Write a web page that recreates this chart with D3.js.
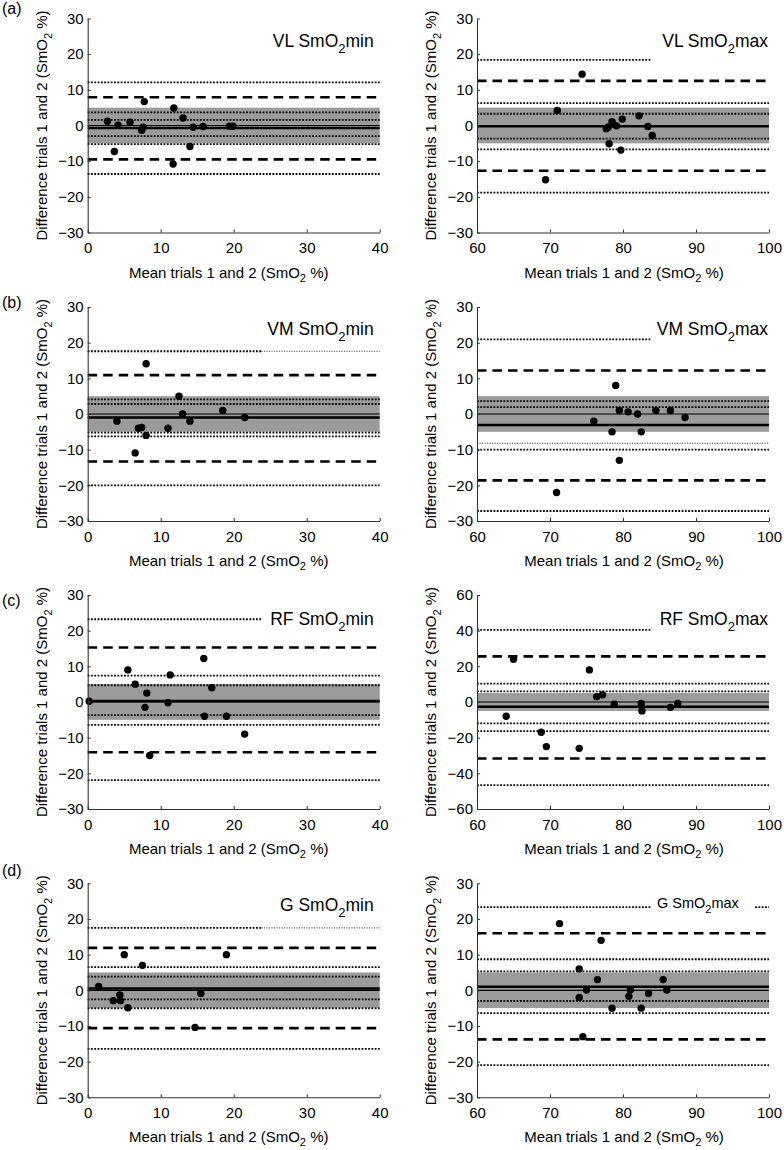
<!DOCTYPE html>
<html><head><meta charset="utf-8">
<script src="https://cdn.jsdelivr.net/npm/d3@7"></script>
<style>
html,body{margin:0;padding:0;background:#fff;}
svg text{font-family:"Liberation Sans",Arial,Helvetica,sans-serif;fill:#000;}
</style></head>
<body>
<svg id="chart" width="784" height="1150"></svg>
<script>
// ---------- data ----------
const panelLetters = ["(a)", "(b)", "(c)", "(d)"];
const muscles = ["VL", "VL", "VM", "VM", "RF", "RF", "G", "G"];
const kinds = ["min", "max", "min", "max", "min", "max", "min", "max"];
const xDomains = [[0, 40], [60, 100]];
const yDomainStd = [-30, 30];
const yDomainRFmax = [-60, 60];
const yTicksStd = [-30, -20, -10, 0, 10, 20, 30];
const yTicksRFmax = [-60, -40, -20, 0, 20, 40, 60];
const xTicksMin = [0, 10, 20, 30, 40];
const xTicksMax = [60, 70, 80, 90, 100];
const bandLimits = [-5, 5];

// points: [mean of trials, difference]
const vlMinPts = [[2.7,1.2],[3.65,-7.3],[4.15,0.05],[5.8,0.9],[7.4,-1.3],[7.6,-0.5],[7.75,6.7],[11.7,-10.8],[11.8,4.9],[13.05,2.1],[14.0,-5.9],[14.45,-0.5],[15.8,-0.3],[19.4,-0.2],[19.9,-0.2]];
const vlMaxPts = [[74.4,14.4],[71.0,4.2],[69.4,-15.2],[77.7,-0.9],[78.0,-0.4],[78.5,1.1],[78.6,0.5],[78.1,-5.1],[79.1,-0.1],[79.9,1.8],[79.7,-6.9],[82.2,2.7],[83.4,-0.3],[84.0,-2.8]];
const vmMinPts = [[4.0,-2.0],[6.5,-10.9],[6.95,-4.0],[7.4,-3.8],[8.0,14.1],[8.0,-6.0],[11.0,-4.0],[12.5,5.0],[13.0,0.0],[14.0,-2.0],[18.5,1.0],[21.5,-1.0]];
const vmMaxPts = [[70.9,-22.0],[76.0,-2.0],[78.5,-5.0],[79.0,8.0],[79.5,1.0],[79.5,-13.0],[80.7,0.6],[82.0,0.0],[82.5,-5.0],[84.5,1.0],[86.5,1.0],[88.5,-1.0]];
const rfMinPts = [[0.2,0.2],[5.5,9.0],[6.5,5.0],[8.1,2.5],[7.85,-1.5],[8.5,-15.0],[11.0,-0.2],[11.3,7.6],[15.9,12.2],[16.0,-4.0],[17.0,4.0],[19.0,-4.0],[21.5,-9.0]];
const rfMaxPts = [[64.0,-8.0],[65.0,24.0],[68.8,-17.0],[69.5,-25.0],[74.0,-26.0],[75.4,18.0],[76.4,3.0],[77.2,4.0],[78.8,-1.2],[82.5,-0.8],[82.6,-5.0],[86.5,-3.0],[87.5,-0.8]];
const gMinPts = [[1.5,1.1],[3.5,-2.9],[4.4,-1.3],[4.5,-2.9],[5.0,10.0],[5.5,-4.9],[7.5,7.0],[14.7,-10.4],[15.5,-0.9],[19.0,10.0]];
const gMaxPts = [[71.3,18.7],[74.0,6.0],[74.0,-2.0],[74.5,-13.0],[75.0,0.1],[76.5,3.0],[77.0,14.0],[78.5,-5.0],[80.8,-1.7],[81.0,0.1],[82.5,-5.0],[83.5,-0.9],[85.5,3.0],[86.0,0.1]];

// mean bias and limits of agreement
const biasValues = [-0.7, -0.2, -1.0, -3.1, 0.3, -2.7, 0.5, 1.0];
const loaUpper = [7.9, 12.5, 10.9, 12.2, 15.3, 25.6, 11.9, 16.0];
const loaLower = [-9.5, -12.7, -13.3, -18.6, -14.1, -31.7, -10.6, -13.75];

// dotted confidence-interval lines: [value, x from, x to]
const vlMinDotted = [[12.1,0,40],[3.7,0,40],[1.6,0,40],[-3.0,0,40],[-5.2,0,40],[-13.6,0,40]];
const vlMaxDotted = [[18.4,60,83.75],[6.3,60,100],[3.3,60,100],[-3.7,60,100],[-6.7,60,100],[-18.8,60,100]];
const vmMinDotted = [[17.6,0,23.8],[4.1,0,40],[2.8,0,40],[-5.2,0,40],[-6.3,0,40],[-20.0,0,40]];
const vmMaxDotted = [[20.9,60,83.75],[3.6,60,100],[1.9,60,100],[-10.0,60,100],[-27.2,60,100]];
const rfMinDotted = [[23.2,0,23.8],[7.4,0,40],[4.7,0,40],[-3.7,0,40],[-6.4,0,40],[-21.9,0,40]];
const rfMaxDotted = [[40.5,60,83.75],[10.3,60,100],[6.0,60,100],[-12.0,60,100],[-16.3,60,100],[-46.6,60,100]];
const gMinDotted = [[17.5,0,23.8],[6.5,0,40],[3.85,0,40],[-2.55,0,40],[-5.05,0,40],[-16.4,0,40]];
const gMaxDotted = [[23.3,60,83.75],[23.3,98.1,100],[8.7,60,100],[5.3,60,100],[-3.0,60,100],[-6.4,60,100],[-21.0,60,100]];
// faint dotted continuations
const vlMinFaint = [], vlMaxFaint = [], rfMinFaint = [], rfMaxFaint = [], gMaxFaint = [];
const vmMinFaint = [[17.6,23.8,40]];
const vmMaxFaint = [[-8.2,60,100]];
const gMinFaint = [[17.5,23.8,40]];

const allPts = [vlMinPts, vlMaxPts, vmMinPts, vmMaxPts, rfMinPts, rfMaxPts, gMinPts, gMaxPts];
const allDotted = [vlMinDotted, vlMaxDotted, vmMinDotted, vmMaxDotted, rfMinDotted, rfMaxDotted, gMinDotted, gMaxDotted];
const allFaint = [vlMinFaint, vlMaxFaint, vmMinFaint, vmMaxFaint, rfMinFaint, rfMaxFaint, gMinFaint, gMaxFaint];

// ---------- layout ----------
const colX = [87.7, 477.0];
const plotW = 292.0;
const rowTop = [18.5, 307.0, 595.0, 883.3];
const plotH = 214;
const letterY = [14, 308, 606, 876];

const svg = d3.select("#chart");

for (let i = 0; i < 8; i++) {
  const row = Math.floor(i / 2), col = i % 2;
  const x0 = colX[col], y0 = rowTop[row];
  const g = svg.append("g").attr("transform", `translate(${x0},${y0})`);
  const isRFmax = (i === 5);
  const x = d3.scaleLinear().domain(xDomains[col]).range([0, plotW]);
  const y = d3.scaleLinear().domain(isRFmax ? yDomainRFmax : yDomainStd).range([plotH, 0]);

  // band
  g.append("rect")
    .attr("x", x(xDomains[col][0])).attr("width", x(xDomains[col][1]) - x(xDomains[col][0]))
    .attr("y", y(bandLimits[1])).attr("height", y(bandLimits[0]) - y(bandLimits[1]))
    .attr("fill", "#9b9b9b");

  // faint dotted
  g.selectAll(".faint").data(allFaint[i]).join("line")
    .attr("x1", d => x(d[1])).attr("x2", d => x(d[2]))
    .attr("y1", d => y(d[0])).attr("y2", d => y(d[0]))
    .attr("stroke", "#444").attr("stroke-width", 1).attr("stroke-dasharray", "1.2 1.3");

  // dotted
  g.selectAll(".dot").data(allDotted[i]).join("line")
    .attr("x1", d => x(d[1])).attr("x2", d => x(d[2]))
    .attr("y1", d => y(d[0])).attr("y2", d => y(d[0]))
    .attr("stroke", "#000").attr("stroke-width", 1.8).attr("stroke-dasharray", "1.8 1.5");

  // zero line
  g.append("line").attr("x1", 0).attr("x2", plotW).attr("y1", y(0)).attr("y2", y(0))
    .attr("stroke", "#000").attr("stroke-width", 1.2);
  // bias
  g.append("line").attr("x1", 0).attr("x2", plotW).attr("y1", y(biasValues[i])).attr("y2", y(biasValues[i]))
    .attr("stroke", "#000").attr("stroke-width", 2.6);
  // LoA
  [loaUpper[i], loaLower[i]].forEach(v => {
    g.append("line").attr("x1", 0).attr("x2", plotW).attr("y1", y(v)).attr("y2", y(v))
      .attr("stroke", "#000").attr("stroke-width", 2.6).attr("stroke-dasharray", "9.5 6");
  });

  // points
  g.selectAll("circle").data(allPts[i]).join("circle")
    .attr("cx", d => x(d[0])).attr("cy", d => y(d[1])).attr("r", 3.7).attr("fill", "#000");

  // axes
  const ya = d3.axisLeft(y).tickValues(isRFmax ? yTicksRFmax : yTicksStd)
    .tickSizeInner(-3).tickSizeOuter(0).tickPadding(4);
  const xa = d3.axisBottom(x).tickValues(col === 0 ? xTicksMin : xTicksMax)
    .tickSizeInner(-3).tickSizeOuter(0).tickPadding(10);
  const gy = g.append("g").call(ya);
  const gx = g.append("g").attr("transform", `translate(0,${plotH})`).call(xa);
  [gx, gy].forEach(a => {
    a.select(".domain").attr("stroke", "#333").attr("stroke-width", 1.1);
    a.selectAll(".tick line").attr("stroke", "#333");
    a.selectAll(".tick text").attr("font-size", 15).attr("font-family", "Liberation Sans, Arial, sans-serif").attr("fill", "#000");
  });

  // axis labels
  const xl = g.append("text").attr("x", plotW / 2 + (col === 0 ? -5 : 1)).attr("y", plotH + 45)
    .attr("text-anchor", "middle").attr("font-size", 15);
  xl.append("tspan").text("Mean trials 1 and 2 (SmO");
  xl.append("tspan").attr("font-size", 11).attr("dy", 4).text("2");
  xl.append("tspan").attr("dy", -4).text(" %)");

  const yl = g.append("text").attr("transform", `translate(-41,${plotH / 2}) rotate(-90)`)
    .attr("text-anchor", "middle").attr("font-size", 15);
  yl.append("tspan").text("Difference trials 1 and 2 (SmO");
  yl.append("tspan").attr("font-size", 11).attr("dy", 5).text("2");
  yl.append("tspan").attr("dy", -5).text(" %)");

  // title
  const small = (i === 7);
  const t = g.append("text").attr("font-size", small ? 14.5 : 17.5);
  if (small) {
    t.attr("x", 180).attr("y", 25).attr("text-anchor", "start");
  } else {
    t.attr("x", plotW - (col === 0 ? 6 : 1)).attr("y", (row === 2 ? 30 : 28)).attr("text-anchor", "end");
  }
  t.append("tspan").text(muscles[i] + " SmO");
  t.append("tspan").attr("font-size", small ? 11 : 13).attr("dy", small ? 5 : 6).text("2");
  t.append("tspan").attr("dy", small ? -5 : -6).text(kinds[i]);
}

// panel letters
svg.selectAll(".letter").data(panelLetters).join("text")
  .attr("x", 2).attr("y", (d, k) => letterY[k]).attr("font-size", 16).text(d => d);
</script>
</body></html>
